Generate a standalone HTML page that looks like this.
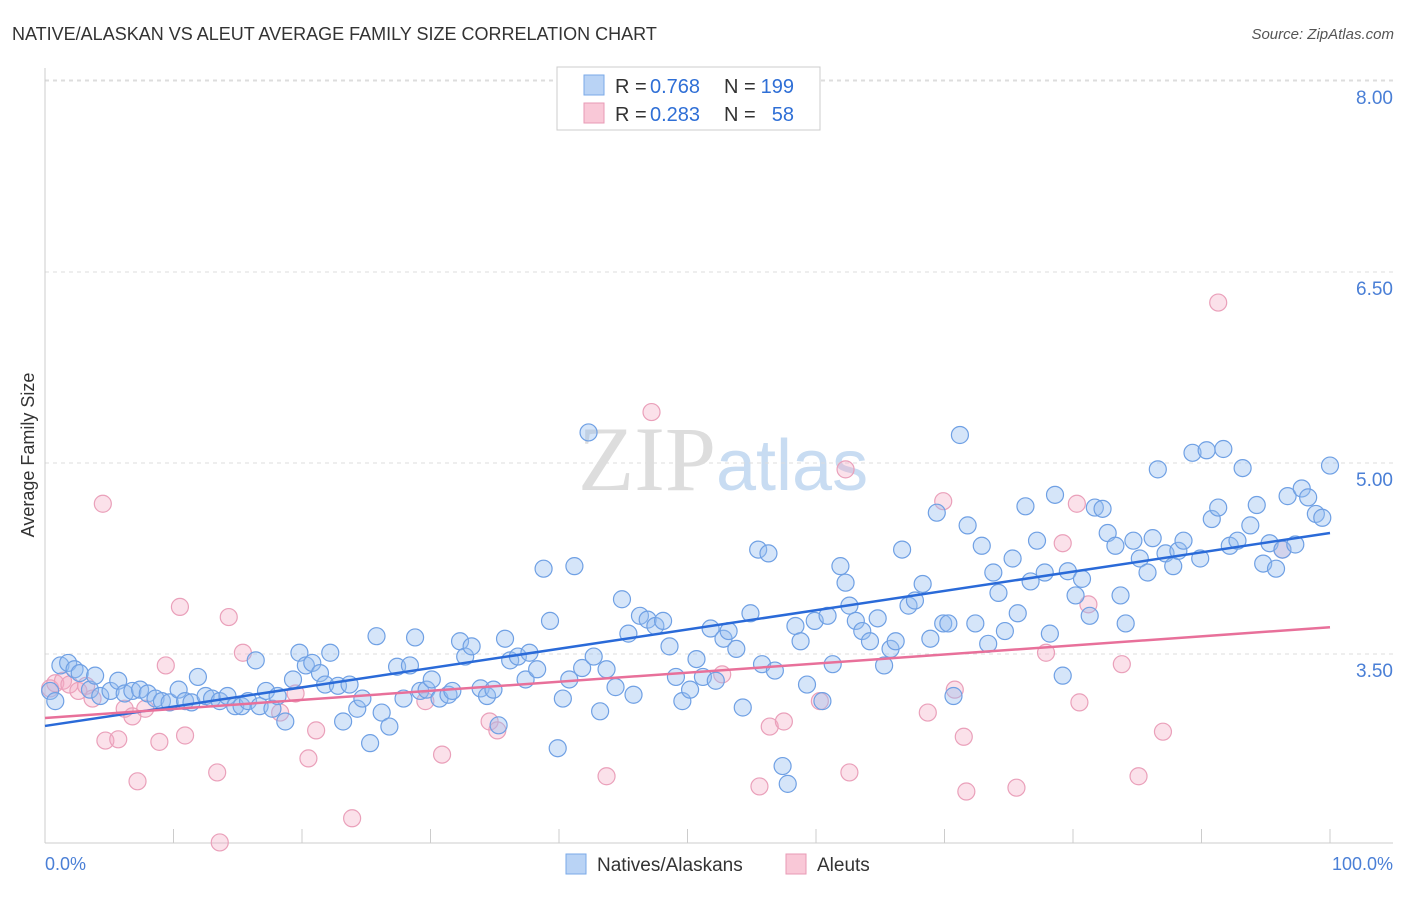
<!DOCTYPE html>
<html><head><meta charset="utf-8"><style>
body{margin:0;background:#fff;font-family:"Liberation Sans",sans-serif}
svg text{font-family:"Liberation Sans",sans-serif}
</style></head><body>
<svg width="1406" height="892">
<text x="12" y="40" font-size="18" fill="#333">NATIVE/ALASKAN VS ALEUT AVERAGE FAMILY SIZE CORRELATION CHART</text>
<text x="1394" y="39" font-size="15" fill="#555" font-style="italic" text-anchor="end">Source: ZipAtlas.com</text>
<text x="716" y="490" font-size="92" fill="#ddd" text-anchor="end" style="font-family:'Liberation Serif',serif">ZIP</text>
<text x="716" y="490" font-size="72" fill="#c8dcf2">atlas</text>
<g id="grid"></g>
<g id="axes"></g>
<g id="pts"></g>
<g id="lines"></g>
<text x="-455" y="34" transform="rotate(-90)" font-size="18" fill="#333" text-anchor="middle">Average Family Size</text>
<text x="45" y="870" font-size="18" fill="#4a7fd6">0.0%</text>
<text x="1393" y="870" font-size="18" fill="#4a7fd6" text-anchor="end">100.0%</text>
<g>
<rect x="557" y="67" width="263" height="63" fill="#fff" stroke="#ccc"/>
<rect x="584" y="75" width="20" height="20" fill="#b9d3f5" stroke="#7aaae8"/>
<rect x="584" y="103" width="20" height="20" fill="#f9c8d7" stroke="#e89ab5"/>
<text x="615" y="93" font-size="20" fill="#333">R =</text>
<text x="650" y="93" font-size="20" fill="#2f6fd6">0.768</text>
<text x="724" y="93" font-size="20" fill="#333">N =</text>
<text x="794" y="93" font-size="20" fill="#2f6fd6" text-anchor="end">199</text>
<text x="615" y="121" font-size="20" fill="#333">R =</text>
<text x="650" y="121" font-size="20" fill="#2f6fd6">0.283</text>
<text x="724" y="121" font-size="20" fill="#333">N =</text>
<text x="794" y="121" font-size="20" fill="#2f6fd6" text-anchor="end">58</text>
</g>
<g>
<rect x="566" y="854" width="20" height="20" fill="#b9d3f5" stroke="#7aaae8"/>
<text x="597" y="871" font-size="19" fill="#333">Natives/Alaskans</text>
<rect x="786" y="854" width="20" height="20" fill="#f9c8d7" stroke="#e89ab5"/>
<text x="817" y="871" font-size="19" fill="#333">Aleuts</text>
</g>
</svg>
<script>
const yTicks=[3.5,5.0,6.5,8.0];
const yTickLabels=["3.50","5.00","6.50","8.00"];
const blueX=[0.4,0.8,1.2,1.8,2.3,2.7,3.5,3.9,4.3,5.1,5.7,6.2,6.8,7.4,8.0,8.6,9.1,9.7,10.4,10.9,11.4,11.9,12.5,13.0,13.6,14.2,14.8,15.3,15.8,16.4,16.7,17.2,17.7,18.1,18.7,19.3,19.8,20.3,20.8,21.4,21.8,22.2,22.8,23.2,23.7,24.3,24.7,25.3,25.8,26.2,26.8,27.4,27.9,28.4,28.8,29.2,29.7,30.1,30.7,31.4,31.7,32.3,32.7,33.2,33.9,34.4,34.9,35.3,35.8,36.2,36.8,37.4,37.7,38.3,38.8,39.3,39.9,40.3,40.8,41.2,41.8,42.3,42.7,43.2,43.7,44.4,44.9,45.4,45.8,46.3,46.9,47.5,48.1,48.6,49.1,49.6,50.2,50.7,51.2,51.8,52.2,52.8,53.2,53.8,54.3,54.9,55.5,55.8,56.3,56.8,57.4,57.8,58.4,58.8,59.3,59.9,60.5,60.9,61.3,61.9,62.3,62.6,63.1,63.6,64.2,64.8,65.3,65.8,66.2,66.7,67.2,67.7,68.3,68.9,69.4,69.9,70.3,70.7,71.2,71.8,72.4,72.9,73.4,73.8,74.2,74.7,75.3,75.7,76.3,76.7,77.2,77.8,78.2,78.6,79.2,79.6,80.2,80.7,81.3,81.7,82.3,82.7,83.3,83.7,84.1,84.7,85.2,85.8,86.2,86.6,87.2,87.8,88.2,88.6,89.3,89.9,90.4,90.8,91.3,91.7,92.2,92.8,93.2,93.8,94.3,94.8,95.3,95.8,96.3,96.7,97.3,97.8,98.3,98.9,99.4,100];
const blueY=[3.21,3.13,3.41,3.43,3.38,3.35,3.22,3.33,3.17,3.21,3.29,3.19,3.21,3.22,3.19,3.15,3.13,3.12,3.22,3.13,3.12,3.32,3.17,3.15,3.13,3.17,3.09,3.09,3.13,3.45,3.09,3.21,3.07,3.17,2.97,3.30,3.51,3.41,3.43,3.35,3.26,3.51,3.25,2.97,3.26,3.07,3.15,2.80,3.64,3.04,2.93,3.40,3.15,3.41,3.63,3.21,3.22,3.30,3.15,3.18,3.21,3.60,3.48,3.56,3.23,3.17,3.22,2.94,3.62,3.45,3.48,3.30,3.51,3.38,4.17,3.76,2.76,3.15,3.30,4.19,3.39,5.24,3.48,3.05,3.38,3.24,3.93,3.66,3.18,3.80,3.77,3.72,3.76,3.56,3.32,3.13,3.22,3.46,3.32,3.70,3.29,3.62,3.68,3.54,3.08,3.82,4.32,3.42,4.29,3.37,2.62,2.48,3.72,3.60,3.26,3.76,3.13,3.80,3.42,4.19,4.06,3.88,3.76,3.68,3.60,3.78,3.41,3.54,3.60,4.32,3.88,3.92,4.05,3.62,4.61,3.74,3.74,3.17,5.22,4.51,3.74,4.35,3.58,4.14,3.98,3.68,4.25,3.82,4.66,4.07,4.39,4.14,3.66,4.75,3.33,4.15,3.96,4.09,3.80,4.65,4.64,4.45,4.35,3.96,3.74,4.39,4.25,4.14,4.41,4.95,4.29,4.19,4.31,4.39,5.08,4.25,5.10,4.56,4.65,5.11,4.35,4.39,4.96,4.51,4.67,4.21,4.37,4.17,4.32,4.74,4.36,4.80,4.73,4.60,4.57,4.98];
const pinkX=[0.4,0.8,1.4,1.9,2.6,3.2,3.7,4.5,4.7,5.7,6.2,6.8,7.2,7.8,8.9,9.4,10.5,10.9,13.4,13.6,14.3,15.4,18.3,19.5,20.5,21.1,23.9,29.6,30.9,34.6,35.2,43.7,47.2,52.7,55.6,56.4,57.5,60.3,62.3,62.6,68.7,69.9,70.8,71.5,71.7,75.6,77.9,79.2,80.3,80.5,81.2,83.8,85.1,87.0,91.3,96.3];
const pinkY=[3.23,3.27,3.29,3.26,3.21,3.25,3.15,4.68,2.82,2.83,3.07,3.01,2.50,3.07,2.81,3.41,3.87,2.86,2.57,2.02,3.79,3.51,3.04,3.19,2.68,2.90,2.21,3.13,2.71,2.97,2.90,2.54,5.40,3.34,2.46,2.93,2.97,3.13,4.95,2.57,3.04,4.70,3.22,2.85,2.42,2.45,3.51,4.37,4.68,3.12,3.89,3.42,2.54,2.89,6.26,4.32];
const blueLine=[2.935,4.45];
const pinkLine=[2.997,3.71];
const NS="http://www.w3.org/2000/svg";
const X0=45,X1=1330;
function xs(v){return X0+(X1-X0)*v/100;}
function ys(v){return 654-(v-3.5)*127.33;}
function mk(tag,attrs,parent){const e=document.createElementNS(NS,tag);for(const k in attrs)e.setAttribute(k,attrs[k]);parent.appendChild(e);return e;}
const gridG=document.getElementById('grid'),axesG=document.getElementById('axes'),ptsG=document.getElementById('pts'),linesG=document.getElementById('lines');
yTicks.forEach((t,i)=>{
 const l=mk('line',{x1:45,x2:1393,y1:ys(t),y2:ys(t),stroke:'#ddd','stroke-dasharray':'4 4'},gridG);
 
 
 const tx=mk('text',{x:1393,y:ys(t)+23,'font-size':19,fill:'#4a7fd6','text-anchor':'end'},gridG);
 tx.textContent=yTickLabels[i];
 
 
});
const topGrid=mk('line',{x1:45,x2:1393,y1:80,y2:80,stroke:'#ddd','stroke-dasharray':'4 4'},gridG);


const ya=mk('line',{x1:45,x2:45,y1:68,y2:843,stroke:'#ccc'},axesG);


const xa=mk('line',{x1:45,x2:1393,y1:843,y2:843,stroke:'#ccc'},axesG);


for(let i=0;i<=10;i++){
 const t=mk('line',{x1:xs(i*10),x2:xs(i*10),y1:829,y2:843,stroke:'#ccc'},axesG);
 
 
}
pinkX.forEach((x,i)=>{
 const c=mk('circle',{cx:xs(x),cy:ys(pinkY[i]),r:8.5,fill:'rgba(244,170,195,0.35)',stroke:'#eaa0ba','stroke-width':1.2},ptsG);
 
 
});
blueX.forEach((x,i)=>{
 const c=mk('circle',{cx:xs(x),cy:ys(blueY[i]),r:8.5,fill:'rgba(150,190,240,0.4)',stroke:'#6fa0e4','stroke-width':1.2},ptsG);
 
 
});
const bl=mk('line',{x1:xs(0),x2:xs(100),y1:ys(blueLine[0]),y2:ys(blueLine[1]),stroke:'#2a6ad8','stroke-width':2.5},linesG);


const pl=mk('line',{x1:xs(0),x2:xs(100),y1:ys(pinkLine[0]),y2:ys(pinkLine[1]),stroke:'#e8709a','stroke-width':2.5},linesG);


</script>
</body></html>
